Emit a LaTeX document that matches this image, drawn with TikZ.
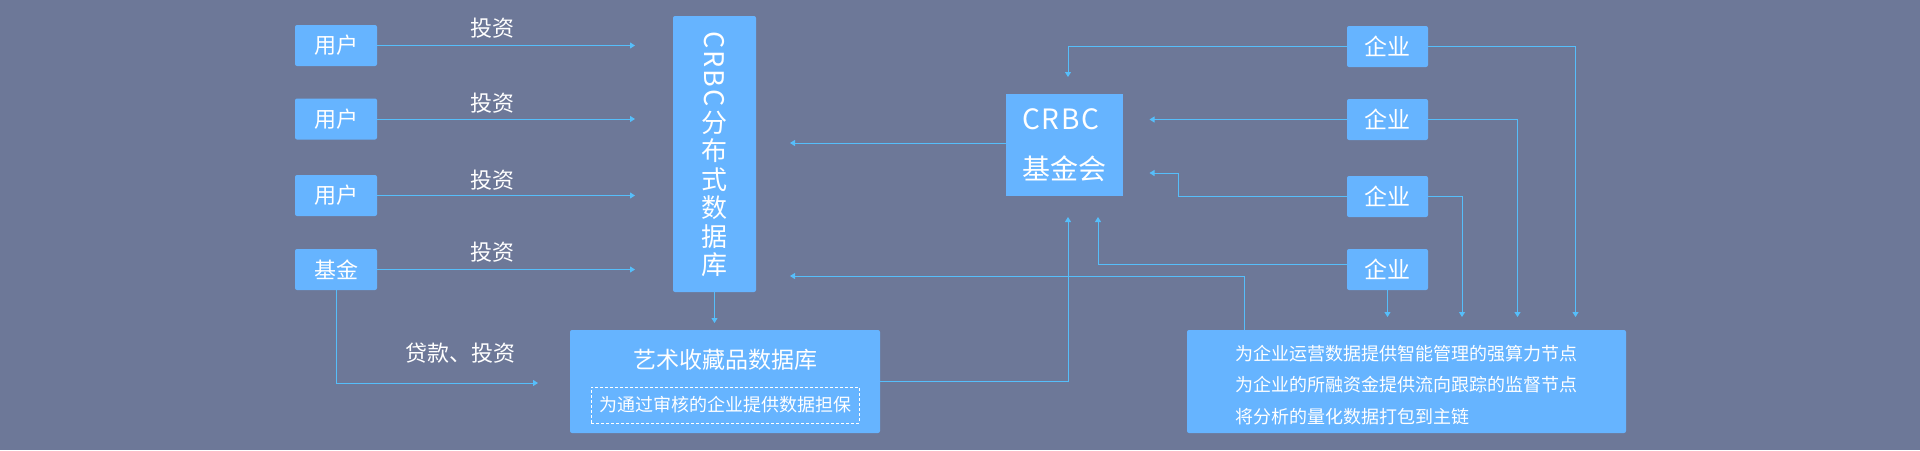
\documentclass[tikz,border=0pt]{standalone}
\usepackage{fontspec}
\setmainfont{Noto Sans CJK SC}
\usetikzlibrary{arrows.meta}
\definecolor{bgc}{RGB}{109,120,152}
\definecolor{boxc}{RGB}{102,180,255}
\definecolor{linec}{RGB}{86,190,250}
\tikzset{
  box/.style={fill=boxc, rounded corners=2pt, inner sep=0pt, text=white},
  smallbox/.style={box, minimum width=82pt, minimum height=41pt, font=\fontsize{22}{26}\selectfont},
  entbox/.style={box, minimum width=81pt, minimum height=41pt, font=\fontsize{23}{27}\selectfont},
  lbl/.style={text=white, inner sep=0pt, font=\fontsize{22}{26}\selectfont},
  conn/.style={draw=linec, line width=1pt, -{Triangle[length=5pt,width=6pt]}},
}
\begin{document}
\begin{tikzpicture}[x=1pt,y=-1pt]
\useasboundingbox (0,0) rectangle (1920,450);
\fill[bgc] (0,0) rectangle (1920,450);

% left column
\node[smallbox] (u1) at (336,45.5) {用户};
\node[smallbox] (u2) at (336,119) {用户};
\node[smallbox] (u3) at (336,195.5) {用户};
\node[smallbox] (fund) at (336,269.5) {基金};

% distributed database
\node[box, minimum width=83pt, minimum height=276pt] (db) at (714.5,154) {};
\node[text=white, inner sep=0pt, rotate=-90, anchor=west, font=\fontsize{27}{30}\selectfont] (dbt1) at (714.5,31)
  {C\kern2pt R\kern2pt B\kern2pt C};
\node[text=white, inner sep=0pt, align=center, anchor=north, font=\fontsize{26}{28.4}\selectfont] (dbt2) at (714.5,111)
  {分\\布\\式\\数\\据\\库};

% art database
\node[box, minimum width=310pt, minimum height=103pt] (art) at (725,381.5) {};
\node[text=white, inner sep=0pt, font=\fontsize{23}{27}\selectfont] (artt) at (725,360) {艺术收藏品数据库};
\node[draw=white, dash pattern=on 3pt off 2pt, line width=1pt, text=white, inner sep=0pt, minimum width=268pt, minimum height=36pt,
  font=\fontsize{18}{22}\selectfont] (artd) at (725,405) {为通过审核的企业提供数据担保};

% foundation
\node[fill=boxc, text=white, inner sep=0pt, minimum width=117pt, minimum height=102pt, align=left,
  font=\fontsize{27}{50}\selectfont] (found) at (1064.5,145)
  {{\fontsize{28}{50}\selectfont C\kern1.5pt R\kern1.5pt B\kern1.5pt C}\\{\fontsize{28}{50}\selectfont 基金会}};

% enterprises
\node[entbox] (e1) at (1387.5,46.5) {企业};
\node[entbox] (e2) at (1387.5,119.5) {企业};
\node[entbox] (e3) at (1387.5,196.5) {企业};
\node[entbox] (e4) at (1387.5,269.5) {企业};

% info box
\node[box, minimum width=439pt, minimum height=103pt] (info) at (1406.5,381.5) {};
\node[text=white, inner sep=0pt, align=left, font=\fontsize{18}{31.5}\selectfont] (infot) at (1406.5,385)
  {为企业运营数据提供智能管理的强算力节点\\为企业的所融资金提供流向跟踪的监督节点\\将分析的量化数据打包到主链};

% labels
\node[lbl] (l1) at (492,28) {投资};
\node[lbl] (l2) at (492,103) {投资};
\node[lbl] (l3) at (492,180) {投资};
\node[lbl] (l4) at (492,252) {投资};
\node[lbl] (l5) at (460,353) {贷款、投资};

% free ends
\coordinate (a1) at (635,45.5);
\coordinate (a2) at (635,119);
\coordinate (a3) at (635,195.5);
\coordinate (a4) at (635,269.5);
\coordinate (fa) at (538,383);
\coordinate (dba) at (714.5,323);
\coordinate (fda) at (790,143);
\coordinate (e1a) at (1068,77);
\coordinate (e2a) at (1149.5,119.5);
\coordinate (e3a) at (1149.5,173);
\coordinate (e4b) at (1098,264);
\coordinate (e4a) at (1098,217);
\coordinate (arta) at (1068,217);
\coordinate (infob) at (1244,276);
\coordinate (infoa) at (790,276);
\coordinate (r1) at (1575.5,317);
\coordinate (r2) at (1517.5,317);
\coordinate (r3) at (1462,317);
\coordinate (r4) at (1387.5,317);

% connectors
\draw[conn] (u1.east) -- (a1);
\draw[conn] (u2.east) -- (a2);
\draw[conn] (u3.east) -- (a3);
\draw[conn] (fund.east) -- (a4);
\draw[conn] (fund.south) |- (fa);
\draw[conn] (db.south) -- (dba);
\draw[conn] (fda -| found.west) -- (fda);
\draw[conn] (e1.west) -| (e1a);
\draw[conn] (e2.west) -- (e2a);
\draw[conn] (e3.west) -- ++(-168,0) |- (e3a);
\draw[conn] (e4b -| e4.west) -- (e4b) -- (e4a);
\draw[conn] (art.east) -| (arta);
\draw[conn] (infob |- info.north) -- (infob) -- (infoa);
\draw[conn] (e1.east) -| (r1);
\draw[conn] (e2.east) -| (r2);
\draw[conn] (e3.east) -| (r3);
\draw[conn] (e4.south) -- (r4);
\end{tikzpicture}
\end{document}
